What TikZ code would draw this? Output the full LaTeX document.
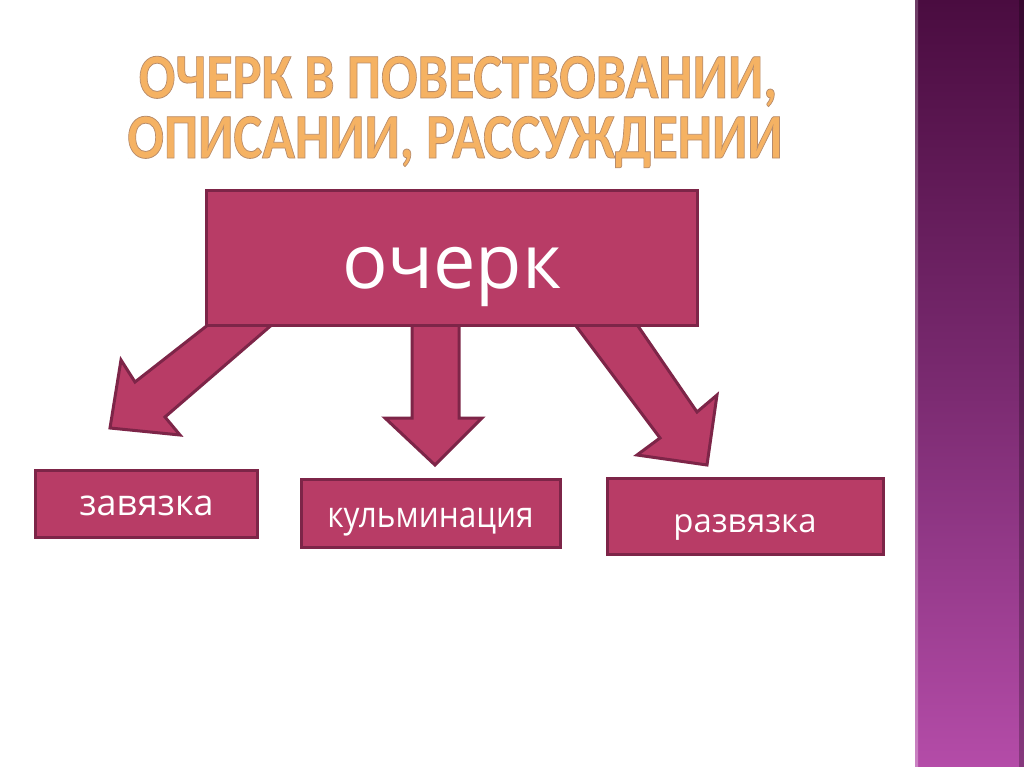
\documentclass[tikz,border=0pt]{standalone}
\usepackage{fontspec}
\setmainfont{Open Sans}
\newfontfamily\titlefont{Carlito}
\definecolor{boxfill}{HTML}{B83C66}
\definecolor{boxline}{HTML}{7D2548}
\definecolor{titlefill}{HTML}{F5B263}
\definecolor{striptop}{HTML}{4A0C40}
\definecolor{stripmid}{HTML}{7A2A70}
\definecolor{stripbot}{HTML}{B44CA8}
% outlined title text: fill in titlefill, thin brownish stroke
\newcommand{\outlinedtext}[1]{\special{pdf:literal direct 0.72 0.55 0.42 RG 2 Tr 0.8 w}#1\special{pdf:literal direct 0 Tr}}
\tikzset{
  blockbox/.style={draw=boxline, fill=boxfill, line width=3bp, line join=miter, text=white, inner sep=0pt, text depth=0bp},
  blockarrow/.style={draw=boxline, fill=boxfill, line width=3bp, line join=miter},
  titletext/.style={font=\titlefont\bfseries\fontsize{64}{64}\selectfont, text=titlefill, inner sep=0pt, anchor=base},
  smalltext/.style={font=\fontsize{36}{36}\selectfont}
}
\begin{document}
\begin{tikzpicture}[x=1bp,y=-1bp]
\useasboundingbox (0,0) rectangle (1024,767);
\fill[white] (0,0) rectangle (1024,767);
% right decorative strip
\shade[top color=striptop, bottom color=stripbot, middle color=stripmid] (915,0) rectangle (1024,767);
\shade[top color=striptop!80!white, bottom color=stripbot!70!white] (915,0) rectangle (918,767);
\fill[black, opacity=0.25] (1019,0) rectangle (1024,767);
% title
\node[titletext] (t1) at (458,98) {\scalebox{0.85}[1]{\outlinedtext{ОЧЕРК В ПОВЕСТВОВАНИИ,}}};
\node[titletext] (t2) at (455,158) {\scalebox{0.85}[1]{\outlinedtext{ОПИСАНИИ, РАССУЖДЕНИИ}}};
% arrows (drawn before the main box, which covers their roots)
\draw[blockarrow] (227,310) -- (135,382) -- (121,360) -- (110,428) -- (180,435) -- (165,417) -- (289,310) -- cycle;
\draw[blockarrow] (412,310) -- (412,418) -- (385,418) -- (435,465) -- (482,418) -- (459,418) -- (459,310) -- cycle;
\draw[blockarrow] (564,310) -- (660,438) -- (637,455) -- (707,465) -- (717,395) -- (697,412) -- (627,310) -- cycle;
% boxes
\node[blockbox, minimum width=490bp, minimum height=135bp, text height=61bp, font=\fontsize{76}{76}\selectfont] (main) at (452,257.5) {очерк};
\node[blockbox, minimum width=221bp, minimum height=67bp, text height=23bp, smalltext] (zav) at (146.5,503.5) {завязка};
\node[blockbox, minimum width=259bp, minimum height=68bp, text height=28bp, smalltext] (kul) at (430.5,513) {\scalebox{0.88}[1]{кульминация}};
\node[blockbox, minimum width=276bp, minimum height=76bp, text height=32bp, font=\fontsize{33}{33}\selectfont] (raz) at (745,516) {развязка};
\end{tikzpicture}
\end{document}
